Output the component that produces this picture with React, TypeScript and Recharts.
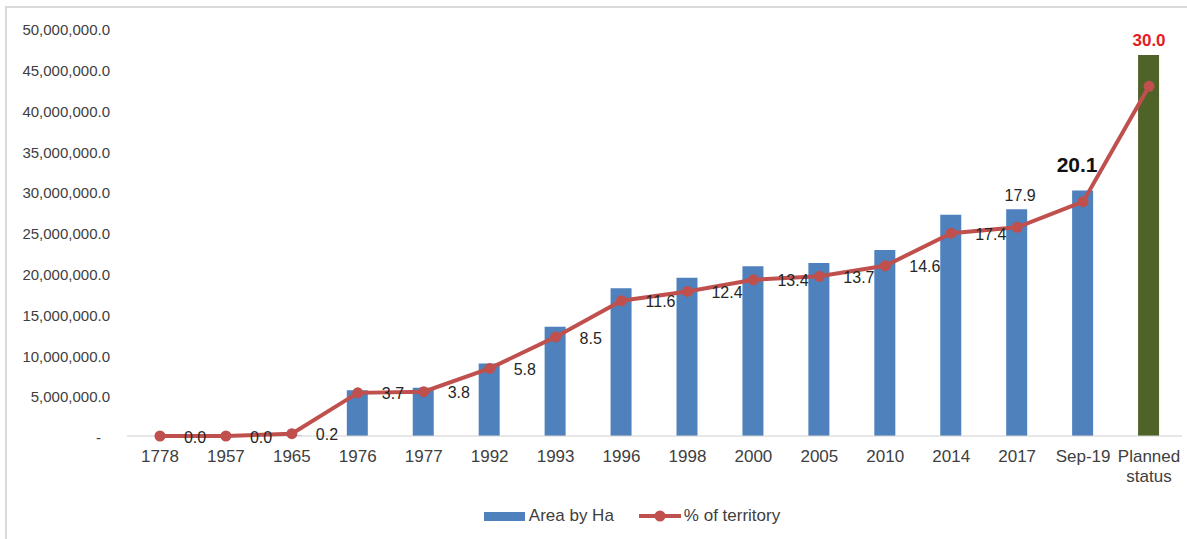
import React from "react";
import {
  ComposedChart,
  Bar,
  Line,
  XAxis,
  YAxis,
  Legend,
  Cell,
  LabelList,
  ReferenceLine,
} from "recharts";

const categories = [
  "1778", "1957", "1965", "1976", "1977", "1992", "1993", "1996",
  "1998", "2000", "2005", "2010", "2014", "2017", "Sep-19", "Planned status",
];
const areaByHa = [
  0, 0, 60000, 5600000, 5900000, 8900000, 13400000, 18100000,
  19400000, 20800000, 21200000, 22800000, 27100000, 27800000, 30100000, 46700000,
];
const pctOfTerritory = [
  0.0, 0.0, 0.2, 3.7, 3.8, 5.8, 8.5, 11.6,
  12.4, 13.4, 13.7, 14.6, 17.4, 17.9, 20.1, 30.0,
];
const areaTicks = [0, 5e6, 10e6, 15e6, 20e6, 25e6, 30e6, 35e6, 40e6, 45e6, 50e6];

const data = categories.map((name, i) => ({
  name,
  area: areaByHa[i],
  pct: pctOfTerritory[i],
}));

const FONT = "'Liberation Sans', Arial, sans-serif";
const BLUE = "#4f81bd";
const RED = "#c0504d";
const OLIVE = "#4f6228";

const YTick = (props: any) => {
  const { x, y, payload } = props;
  const v = payload.value as number;
  const text =
    v === 0
      ? "-"
      : v.toLocaleString("en-US", { minimumFractionDigits: 1, maximumFractionDigits: 1 });
  return (
    <text
      x={v === 0 ? x - 26 : x - 17}
      y={y + 2}
      dy="0.35em"
      textAnchor="end"
      fontFamily={FONT}
      fontSize={15}
      fill="#404040"
    >
      {text}
    </text>
  );
};

const XTick = (props: any) => {
  const { x, y, payload } = props;
  const lines = String(payload.value).split(" ");
  return (
    <text x={x} y={y + 26} textAnchor="middle" fontFamily={FONT} fontSize={17} fill="#404040">
      {lines.map((l, i) => (
        <tspan key={i} x={x} dy={i === 0 ? 0 : 20}>
          {l}
        </tspan>
      ))}
    </text>
  );
};

// point labels sit to the right of each dot, except the last three
const PctLabel = (props: any) => {
  const { x, y, value, index } = props;
  const text = Number(value).toFixed(1);
  const last = categories.length - 1;
  if (index === last) {
    return (
      <text x={x} y={y - 46} dy="0.35em" textAnchor="middle" fontFamily={FONT}
        fontSize={17} fontWeight="bold" fill="#e31c23">
        {text}
      </text>
    );
  }
  if (index === last - 1) {
    return (
      <text x={x - 6} y={y - 37} dy="0.35em" textAnchor="middle" fontFamily={FONT}
        fontSize={21} fontWeight="bold" fill="#111">
        {text}
      </text>
    );
  }
  if (index === last - 2) {
    return (
      <text x={x + 3} y={y - 32} dy="0.35em" textAnchor="middle" fontFamily={FONT}
        fontSize={16} fill="#262626">
        {text}
      </text>
    );
  }
  return (
    <text x={x + 24} y={y + 1} dy="0.35em" textAnchor="start" fontFamily={FONT}
      fontSize={16} fill="#262626">
      {text}
    </text>
  );
};

const LegendContent = () => (
  <div
    style={{
      display: "flex",
      justifyContent: "center",
      alignItems: "center",
      height: 20,
      paddingLeft: 82,
      fontFamily: FONT,
      fontSize: 17,
      color: "#404040",
    }}
  >
    <span style={{ display: "inline-block", width: 41, height: 9, background: BLUE, marginRight: 4 }} />
    <span style={{ marginRight: 25 }}>Area by Ha</span>
    <svg width={42} height={12} style={{ marginRight: 3 }}>
      <line x1={0} y1={6} x2={42} y2={6} stroke={RED} strokeWidth={4} />
      <circle cx={21} cy={6} r={5.5} fill={RED} />
    </svg>
    <span>% of territory</span>
  </div>
);

export default function App() {
  return (
    <div
      style={{
        position: "absolute",
        left: 0,
        top: 0,
        width: 1187,
        height: 539,
        overflow: "hidden",
        background: "#fff",
      }}
    >
      <div
        style={{
          position: "absolute",
          left: 5,
          top: 6,
          width: 1200,
          height: 600,
          border: "2px solid #d9d9d9",
        }}
      />
      <ComposedChart
        width={1187}
        height={539}
        data={data}
        margin={{ top: 28, right: 5, bottom: 13, left: 0 }}
        style={{ position: "absolute", left: 0, top: 0 }}
      >
        <XAxis
          dataKey="name"
          interval={0}
          tickLine={false}
          tickSize={0}
          tickMargin={0}
          height={70}
          axisLine={false}
          tick={<XTick />}
        />
        <YAxis
          yAxisId="area"
          domain={[0, 50000000]}
          ticks={areaTicks}
          width={127}
          axisLine={false}
          tickLine={false}
          tickSize={0}
          tickMargin={0}
          tick={<YTick />}
          interval={0}
        />
        <YAxis yAxisId="pct" orientation="right" domain={[0, 35]} hide />
        {/* baseline kept under the series so the flat part of the line stays solid */}
        <ReferenceLine yAxisId="area" y={0} stroke="#d0d0d0" />
        <Legend verticalAlign="bottom" height={20} content={<LegendContent />} />
        <Bar yAxisId="area" dataKey="area" name="Area by Ha" barSize={21} fill={BLUE} isAnimationActive={false}>
          {data.map((d, i) => (
            <Cell key={d.name} fill={i === data.length - 1 ? OLIVE : BLUE} />
          ))}
        </Bar>
        <Line
          yAxisId="pct"
          dataKey="pct"
          name="% of territory"
          type="linear"
          stroke={RED}
          strokeWidth={4}
          dot={{ r: 5.5, fill: RED, stroke: RED, strokeWidth: 0 }}
          isAnimationActive={false}
        >
          <LabelList dataKey="pct" content={<PctLabel />} />
        </Line>
      </ComposedChart>
    </div>
  );
}
